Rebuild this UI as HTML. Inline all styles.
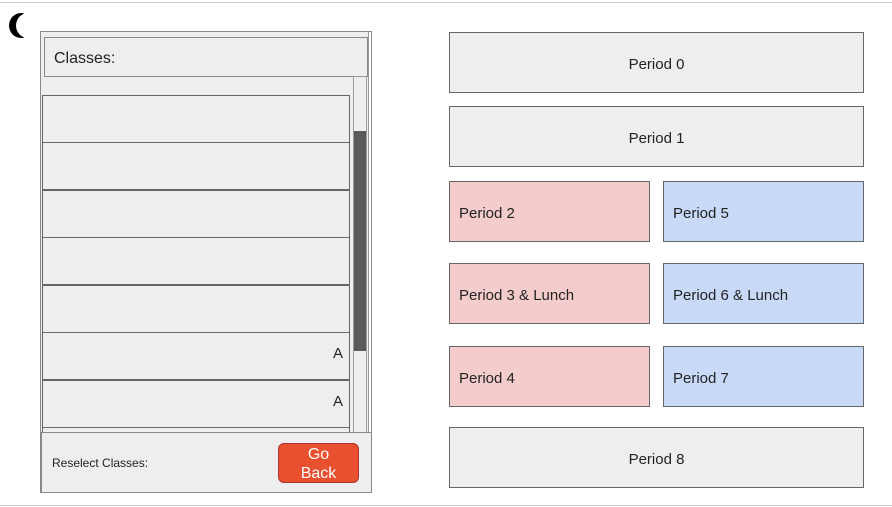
<!DOCTYPE html>
<html><head><style>
body{margin:0;width:892px;height:507px;background:#fff;position:relative;overflow:hidden;font-family:"Liberation Sans",sans-serif;color:#222}
div{position:absolute;box-sizing:border-box}
.b{border:1px solid #777;background:#eee}
.p{border:1px solid #666;font-size:15px;display:flex;align-items:center;padding-top:3px}
.g{background:#eee;justify-content:center}
.r{background:#f4cccc;padding-left:9px}
.u{background:#c9daf8;padding-left:9px}
.row{left:42px;width:308px;height:48px;border:1px solid #666;background:#eee;font-size:15px;text-align:right;padding:12px 6px 0 0}
</style></head><body>
<div style="left:0;top:2px;width:892px;height:1px;background:#ccc"></div>
<div style="left:0;top:505px;width:892px;height:1px;background:#ccc"></div>
<div style="left:16px;top:13px;width:24px;height:25px;border-radius:50%;box-shadow:-7px 0 0 0 #000"></div>
<div class="b" style="left:40px;top:31px;width:332px;height:462px;border-color:#888;box-shadow:inset -2px 0 0 #fff,inset -3px 0 0 #999"></div>
<div class="b" style="left:44px;top:37px;width:324px;height:40px;font-size:16px;padding:12px 0 0 9px;border-color:#888">Classes:</div>
<div class="row" style="top:95px"></div>
<div class="row" style="top:142px"></div>
<div class="row" style="top:190px"></div>
<div class="row" style="top:237px"></div>
<div class="row" style="top:285px"></div>
<div class="row" style="top:332px">A</div>
<div class="row" style="top:380px">A</div>
<div class="row" style="top:427px"></div>
<div class="b" style="left:353px;top:76px;width:14px;height:357px;border-color:#999"></div>
<div style="left:354px;top:131px;width:12px;height:220px;background:#5a5a5a"></div>
<div class="b" style="left:41px;top:432px;width:331px;height:61px;border-color:#888;font-size:12px;padding:23px 0 0 10px">Reselect Classes:</div>
<div style="left:278px;top:443px;width:81px;height:40px;background:#e8502f;border:1px solid #a33;border-radius:6px;color:#fff;font-size:16px;line-height:19px;text-align:center;padding-top:1px">Go<br>Back</div>
<div class="p g" style="left:449px;top:32px;width:415px;height:61px">Period 0</div>
<div class="p g" style="left:449px;top:106px;width:415px;height:61px">Period 1</div>
<div class="p r" style="left:449px;top:181px;width:201px;height:61px">Period 2</div>
<div class="p u" style="left:663px;top:181px;width:201px;height:61px">Period 5</div>
<div class="p r" style="left:449px;top:263px;width:201px;height:61px">Period 3 &amp; Lunch</div>
<div class="p u" style="left:663px;top:263px;width:201px;height:61px">Period 6 &amp; Lunch</div>
<div class="p r" style="left:449px;top:346px;width:201px;height:61px">Period 4</div>
<div class="p u" style="left:663px;top:346px;width:201px;height:61px">Period 7</div>
<div class="p g" style="left:449px;top:427px;width:415px;height:61px">Period 8</div>
</body></html>
